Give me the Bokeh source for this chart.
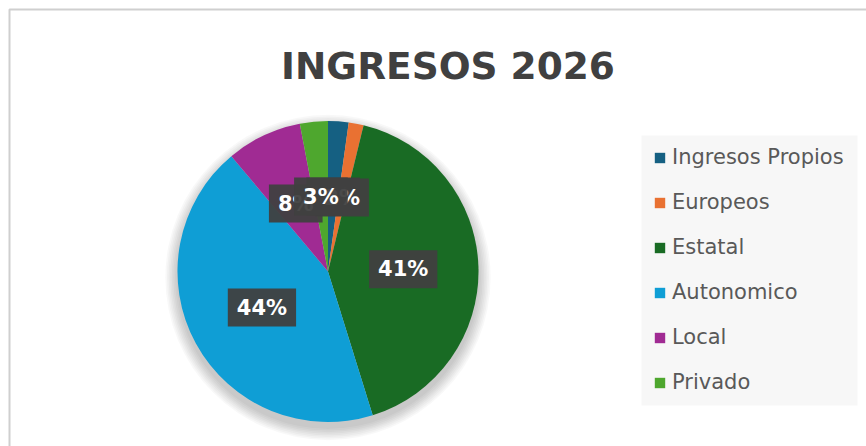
import math
from bokeh.plotting import figure
from bokeh.models import ColumnDataSource, Label, Legend, LegendItem, Range1d, BoxAnnotation
from bokeh.embed import file_html
from bokeh.resources import INLINE

# ---- data ----
categories = ["Ingresos Propios", "Europeos", "Estatal", "Autonomico", "Local", "Privado"]
values = [2.2, 1.6, 41.4, 43.7, 8.1, 3.0]
title_text = "INGRESOS 2026"

# ---- style ----
palette = ["#156082", "#E97132", "#196B24", "#0F9ED5", "#A02B93", "#4EA72E"]
FONT = "DejaVu Sans"
W, H = 866, 446
CX, CY, R = 327.5, 175.0, 150.5

total = sum(values)
starts, ends, mids = [], [], []
acc = 0.0
for v in values:
    a0 = math.pi / 2 - 2 * math.pi * acc / total
    acc += v
    a1 = math.pi / 2 - 2 * math.pi * acc / total
    starts.append(a0)
    ends.append(a1)
    mids.append((a0 + a1) / 2)
labels = [f"{v:.0f}%" for v in values]

src = ColumnDataSource(dict(cat=categories, val=values, start=starts, end=ends, color=palette))

p = figure(width=W, height=H, output_backend="svg", toolbar_location=None,
           x_range=Range1d(0, W), y_range=Range1d(0, H),
           x_axis_type=None, y_axis_type=None, min_border=0,
           outline_line_color=None, background_fill_color="white",
           border_fill_color="white")
p.grid.visible = False

# chart border (left / top)
p.line(x=[9, 9, W], y=[0, H - 9, H - 9], line_color="#cfcfcf", line_width=2)

# legend background
p.add_layout(BoxAnnotation(left=641, right=857, bottom=H - 405, top=H - 135,
                           fill_color="#f7f7f7", fill_alpha=1.0, line_color=None,
                           level="underlay"))

# soft shadow under pie
for i in range(8):
    p.circle(x=CX, y=CY - 6, radius=R + 1 + i * 1.6, fill_color="black",
             fill_alpha=0.028, line_color=None)

pie = p.wedge(x=CX, y=CY, radius=R, start_angle="start", end_angle="end",
              direction="clock", fill_color="color", line_color=None, source=src)

# data labels
for lab, m in zip(labels, mids):
    lx = CX + 0.5 * R * math.cos(m)
    ly = CY + 0.5 * R * math.sin(m)
    shadow = Label(x=lx, y=ly, text=lab, text_align="center", text_baseline="middle",
                   text_font=FONT, text_font_size="21px", text_font_style="bold",
                   text_color="#000000", text_alpha=0.0, x_offset=2, y_offset=-3,
                   background_fill_color="black", background_fill_alpha=0.25,
                   padding=dict(left=9, right=9, top=7, bottom=7))
    box = Label(x=lx, y=ly, text=lab, text_align="center", text_baseline="middle",
                text_font=FONT, text_font_size="21px", text_font_style="bold",
                text_color="white", background_fill_color="#404040",
                background_fill_alpha=0.95,
                padding=dict(left=9, right=9, top=7, bottom=7))
    p.add_layout(shadow)
    p.add_layout(box)

# title
p.add_layout(Label(x=447.5, y=381, text=title_text, text_align="center",
                   text_baseline="alphabetic", text_font=FONT, text_font_size="37.5px",
                   text_font_style="bold", text_color="#404040"))

legend = Legend(items=[LegendItem(label=c, renderers=[pie], index=i)
                       for i, c in enumerate(categories)],
                location=(653, 52), background_fill_alpha=0.0, border_line_color=None,
                label_text_font=FONT, label_text_font_size="21px",
                label_text_color="#595959", glyph_width=13, glyph_height=13,
                spacing=21, padding=12, margin=0, label_standoff=6)
p.add_layout(legend)

open("out.html", "w").write(file_html(p, INLINE))
